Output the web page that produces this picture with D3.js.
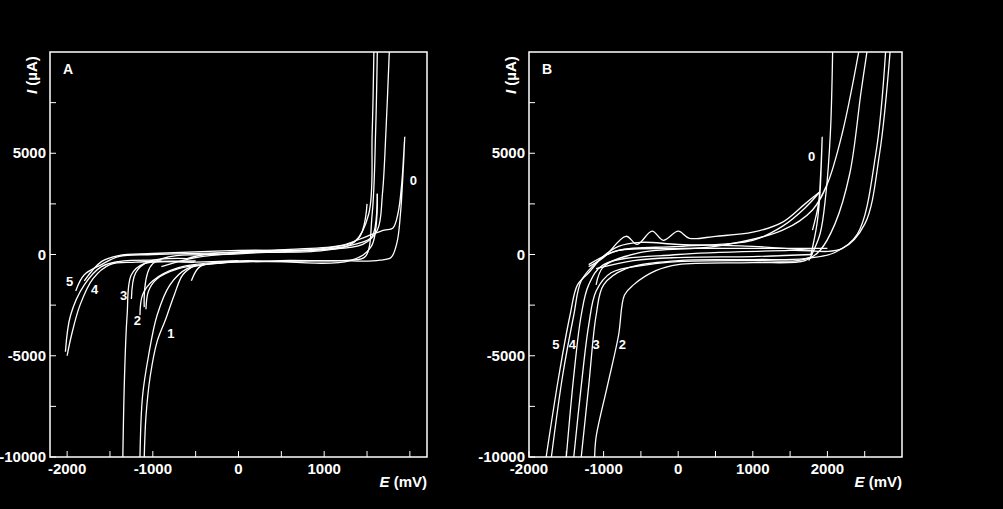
<!DOCTYPE html>
<html lang="en">
<head>
<meta charset="UTF-8">
<script src="https://d3js.org/d3.v7.min.js"></script>
<style>
  body { margin: 0; background: #000; }
  text { font-family: "Liberation Sans", Arial, sans-serif; font-weight: bold; fill: #fff; }
</style>
</head>
<body>
<div id="chart"></div>
<script>
// tick values
var yTicks = [-10000, -7500, -5000, -2500, 0, 2500, 5000, 7500];
var yLabels = [-10000, -5000, 0, 5000];
var xTicksA = [-2000, -1500, -1000, -500, 0, 500, 1000, 1500, 2000];
var xLabelsA = [-2000, -1000, 0, 1000];
var xTicksB = [-2000, -1500, -1000, -500, 0, 500, 1000, 1500, 2000, 2500];
var xLabelsB = [-2000, -1000, 0, 1000, 2000];

// panel A curves, [E (mV), I (uA)]
var curvesA = [
  [[-550,-1300],[-450,-600],[-200,-420],[500,-340],[1200,-300],[1450,-330],[1650,-280],[1780,-150],[1850,600],[1890,2000],[1920,4000],[1940,5800],[1905,3500],[1860,2000],[1800,1300],[1700,1200],[1500,900],[1200,450],[600,250],[0,130],[-400,0],[-600,-200]],
  [[-500,-500],[-650,-1000],[-750,-2000],[-850,-3200],[-950,-4300],[-1030,-6000],[-1080,-8000],[-1100,-10000]],
  [[-1150,-10000],[-1120,-7000],[-1050,-5000],[-950,-3000],[-800,-1500],[-600,-700],[-200,-420],[500,-300],[1300,-280],[1480,-100],[1560,2000],[1600,6000],[1620,10000]],
  [[1760,10000],[1720,6000],[1680,3000],[1620,1200],[1450,500],[1000,250],[300,150],[-500,-150],[-900,-600]],
  [[-1150,-3000],[-1120,-2000],[-1000,-1300],[-700,-650],[0,-320],[1300,-300],[1550,400],[1620,3000]],
  [[1620,3000],[1560,900],[1400,550],[1000,250],[0,30],[-1000,-450],[-1100,-2600]],
  [[-1080,-2700],[-1050,-1800],[-950,-1200],[-700,-700],[-400,-500]],
  [[-1350,-10000],[-1330,-6000],[-1300,-3000],[-1250,-1000],[-1100,-450],[-500,-380],[0,-300]],
  [[-1250,-2200],[-1200,-900],[-1050,-350],[-600,-200]],
  [[-2000,-5000],[-1950,-4000],[-1850,-2500],[-1700,-1200],[-1500,-500],[-1200,-380],[-500,-320]],
  [[-2020,-4800],[-1960,-3000],[-1800,-1500],[-1600,-600],[-1400,-350],[-900,-280]],
  [[-1900,-1800],[-1800,-1000],[-1600,-500],[-1400,-100],[-1000,0],[0,100],[1000,200],[1350,600],[1520,2000],[1560,6000],[1580,10000]],
  [[-1800,-1300],[-1600,-350],[-1400,-50],[-1000,50],[0,200],[1000,300],[1400,800],[1500,2500]]
];
var labelsA = [["0",2040,3700],["1",-790,-3900],["2",-1180,-3250],["3",-1340,-2000],["4",-1680,-1700],["5",-1970,-1300]];

// panel B curves
var curvesB = [
  [[1780,0],[1860,1500],[1900,3000],[1930,5800],[1910,4000],[1880,2500],[1800,1200]],
  [[-1100,-700],[-600,-300],[0,-150],[1000,-100],[1800,0]],
  [[-1200,-600],[-1000,-150],[-700,900],[-550,500],[-350,1150],[-200,700],[0,1150],[150,800],[500,900],[1000,1100],[1400,1600],[1700,2500],[1900,3100]],
  [[-1120,-10000],[-1100,-9000],[-950,-6500],[-800,-4000],[-720,-2000],[-600,-1500],[-300,-800],[0,-500],[1000,-400],[1700,-300],[1900,200],[2100,1500],[2300,4000],[2450,8000],[2530,10000]],
  [[2420,10000],[2200,6000],[2000,3500],[1800,2200],[1400,1200],[500,400],[-500,100],[-1000,-600],[-1100,-1500]],
  [[-1300,-10000],[-1200,-6500],[-1100,-3000],[-1000,-1500],[-700,-700],[0,-300],[1000,-250],[1700,-200],[2100,100],[2400,1000],[2650,5000],[2780,10000]],
  [[-1400,-10000],[-1300,-6500],[-1200,-3500],[-1100,-1800],[-900,-900],[-400,-500],[0,-350],[1000,-300],[1600,-300],[1800,-100]],
  [[-1500,-10000],[-1400,-6000],[-1300,-3000],[-1200,-1500],[-1000,-500],[0,0],[1500,200],[2200,300],[2500,1500],[2700,5000],[2840,10000]],
  [[-1770,-10000],[-1600,-6000],[-1450,-3000],[-1350,-1500],[-1200,-900],[-1000,-100],[-800,200],[0,300],[1000,300],[2000,300]],
  [[-1700,-10000],[-1550,-6000],[-1400,-3000],[-1300,-1300],[-1100,-400],[-800,400],[-500,600],[0,500],[1000,400],[1800,200]],
  [[1750,-300],[1900,1000],[1980,3000],[2040,6000],[2070,10000]],
  [[1900,3100],[1700,2300],[1400,1400],[1000,700],[0,400],[-800,200],[-1200,-500]]
];
var labelsB = [["0",1790,4850],["2",-750,-4400],["3",-1100,-4400],["4",-1420,-4400],["5",-1640,-4400]];

var svg = d3.select("#chart").append("svg").attr("width", 1003).attr("height", 509);

function panel(left, right, xDomain, xTicks, xLabels, curves, labels, letter) {
  var top = 52, bottom = 457;
  var x = d3.scaleLinear().domain(xDomain).range([left, right]);
  var y = d3.scaleLinear().domain([-10000, 10000]).range([bottom, top]);
  var g = svg.append("g");

  var clip = "clip" + letter;
  g.append("clipPath").attr("id", clip).append("rect")
    .attr("x", left).attr("y", top).attr("width", right - left).attr("height", bottom - top);

  var line = d3.line().x(function(d) { return x(d[0]); }).y(function(d) { return y(d[1]); })
    .curve(d3.curveCatmullRom);
  g.append("g").attr("clip-path", "url(#" + clip + ")").selectAll("path").data(curves).enter()
    .append("path").attr("d", line).attr("fill", "none").attr("stroke", "#fff").attr("stroke-width", 1.3);

  g.append("rect").attr("x", left).attr("y", top).attr("width", right - left).attr("height", bottom - top)
    .attr("fill", "none").attr("stroke", "#fff").attr("stroke-width", 1.5);

  // inward ticks
  g.selectAll(".yt").data(yTicks).enter().append("line")
    .attr("x1", left).attr("x2", left + 6).attr("y1", function(d) { return y(d); }).attr("y2", function(d) { return y(d); })
    .attr("stroke", "#fff");
  g.selectAll(".xt").data(xTicks).enter().append("line")
    .attr("y1", bottom).attr("y2", bottom - 6).attr("x1", function(d) { return x(d); }).attr("x2", function(d) { return x(d); })
    .attr("stroke", "#fff");

  g.selectAll(".yl").data(yLabels).enter().append("text")
    .attr("x", left - 4).attr("y", function(d) { return y(d) + 5; })
    .attr("text-anchor", "end").style("font-size", "15px").text(function(d) { return d; });
  g.selectAll(".xl").data(xLabels).enter().append("text")
    .attr("x", function(d) { return x(d); }).attr("y", bottom + 17)
    .attr("text-anchor", "middle").style("font-size", "15px").text(function(d) { return d; });

  g.selectAll(".cl").data(labels).enter().append("text")
    .attr("x", function(d) { return x(d[1]); }).attr("y", function(d) { return y(d[2]) + 5; })
    .attr("text-anchor", "middle").style("font-size", "13px").text(function(d) { return d[0]; });

  g.append("text").attr("x", left + 13).attr("y", top + 22).style("font-size", "14px").text(letter);

  var yl = g.append("text").attr("transform", "translate(" + (left - 13) + "," + (top + 42) + ") rotate(-90)")
    .style("font-size", "15px");
  yl.append("tspan").style("font-style", "italic").text("I");
  yl.append("tspan").text(" (\u00b5A)");

  var xl = g.append("text").attr("x", right).attr("y", bottom + 30).attr("text-anchor", "end").style("font-size", "15px");
  xl.append("tspan").style("font-style", "italic").text("E");
  xl.append("tspan").text(" (mV)");
}

panel(50, 427, [-2200, 2200], xTicksA, xLabelsA, curvesA, labelsA, "A");
panel(529, 902, [-2000, 3000], xTicksB, xLabelsB, curvesB, labelsB, "B");
</script>
</body>
</html>
